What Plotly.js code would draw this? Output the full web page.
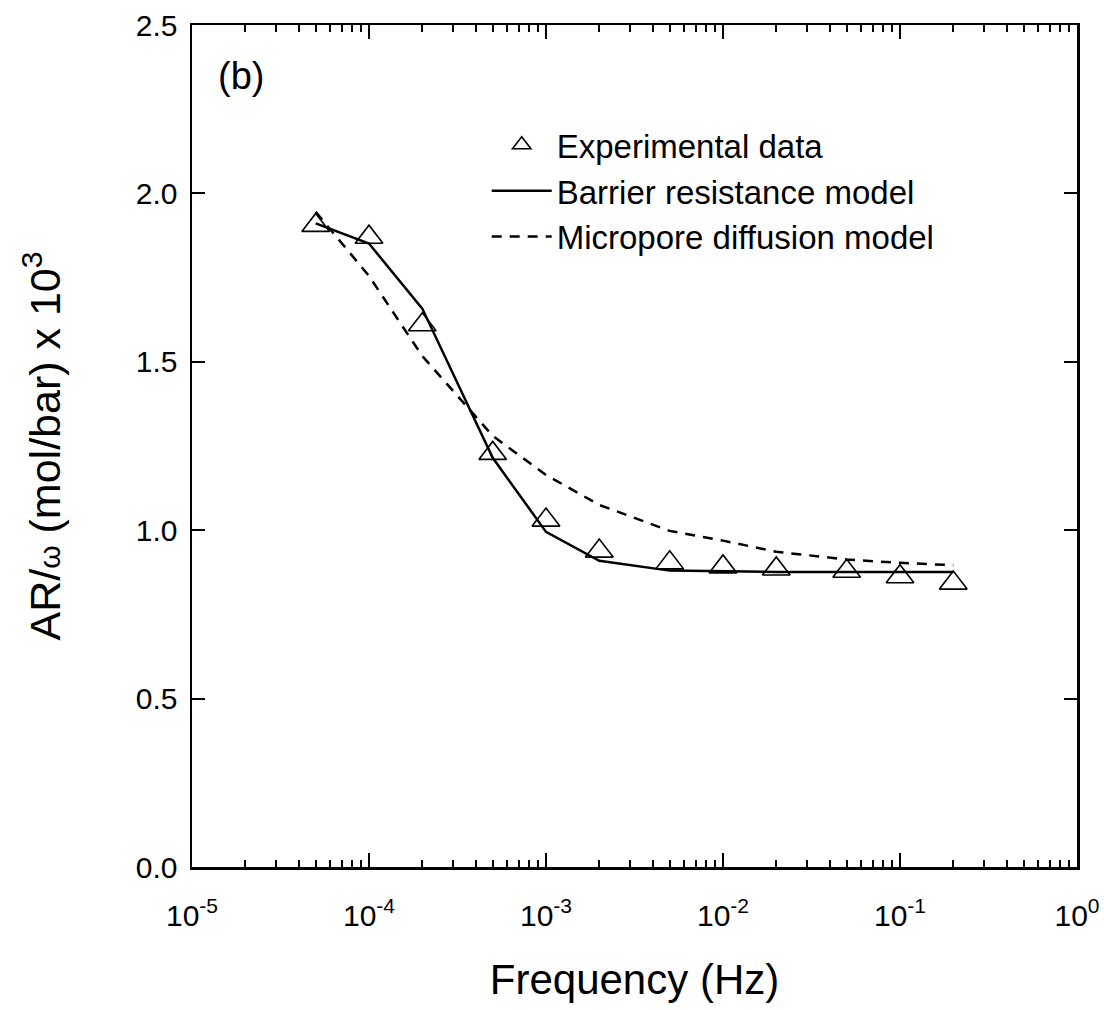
<!DOCTYPE html>
<html>
<head>
<meta charset="utf-8">
<script src="https://cdn.plot.ly/plotly-3.0.1.min.js"></script>
<style>
  html, body { margin: 0; padding: 0; background: #fff; }
  #chart { width: 1104px; height: 1010px; }
</style>
</head>
<body>
<div id="chart"></div>
<script>
// Frequency (Hz)
var freq = [5e-5, 1e-4, 2e-4, 5e-4, 1e-3, 2e-3, 5e-3, 1e-2, 2e-2, 5e-2, 1e-1, 2e-1];
// AR/omega (mol/bar) x 10^3
var experimentalData = [1.905, 1.870, 1.610, 1.228, 1.030, 0.938, 0.903, 0.891, 0.885, 0.878, 0.862, 0.843];
var barrierResistance = [1.911, 1.851, 1.658, 1.215, 0.995, 0.909, 0.880, 0.877, 0.876, 0.876, 0.876, 0.876];
var microporeDiffusion = [1.945, 1.755, 1.517, 1.280, 1.164, 1.075, 0.998, 0.969, 0.936, 0.913, 0.903, 0.896];

var seriesNames = ["Experimental data", "Barrier resistance model", "Micropore diffusion model"];

var xTickVals = [1e-5, 1e-4, 1e-3, 1e-2, 1e-1, 1];
var xTickText = ["10<sup>-5</sup>", "10<sup>-4</sup>", "10<sup>-3</sup>", "10<sup>-2</sup>", "10<sup>-1</sup>", "10<sup>0</sup>"];
var xMinorVals = [];
[1e-5, 1e-4, 1e-3, 1e-2, 1e-1].forEach(function (d) {
  for (var k = 2; k <= 9; k++) xMinorVals.push(d * k);
});
var yTickVals = [0, 0.5, 1.0, 1.5, 2.0, 2.5];
var yTickText = ["0.0", "0.5", "1.0", "1.5", "2.0", "2.5"];

var FONT = "Liberation Sans, Arial, Helvetica, sans-serif";

var traces = [
  {
    x: freq, y: experimentalData, name: seriesNames[0],
    type: "scatter", mode: "markers",
    marker: { symbol: "triangle-up-open", size: 24, color: "#000", line: { width: 1.6, color: "#000" } }
  },
  {
    x: freq, y: barrierResistance, name: seriesNames[1],
    type: "scatter", mode: "lines",
    line: { color: "#000", width: 2.5 }
  },
  {
    x: freq, y: microporeDiffusion, name: seriesNames[2],
    type: "scatter", mode: "lines",
    line: { color: "#000", width: 2.5, dash: "10px,8px" }
  }
];

var layout = {
  width: 1104, height: 1010,
  margin: { l: 192, r: 27, t: 25, b: 143 },
  paper_bgcolor: "#fff", plot_bgcolor: "#fff",
  font: { family: FONT, color: "#000", size: 30 },
  showlegend: true,
  legend: {
    x: 0.333, y: 0.891, xanchor: "left", yanchor: "top",
    bgcolor: "rgba(0,0,0,0)", borderwidth: 0,
    font: { family: FONT, size: 33, color: "#000" },
    itemwidth: 60, tracegroupgap: 0
  },
  xaxis: {
    type: "log", range: [-5, 0],
    showgrid: false, zeroline: false,
    showline: true, linecolor: "#000", linewidth: 2.5, mirror: "allticks",
    ticks: "inside", ticklen: 14, tickwidth: 2, tickcolor: "#000",
    tickmode: "array", tickvals: xTickVals, ticktext: xTickText,
    tickfont: { family: FONT, size: 30, color: "#000" },
    ticklabelstandoff: 20,
    minor: { tickmode: "array", tickvals: xMinorVals, ticks: "inside", ticklen: 7, tickwidth: 2, tickcolor: "#000", showgrid: false },
    title: { text: "Frequency (Hz)", font: { family: FONT, size: 42, color: "#000" }, standoff: 34 }
  },
  yaxis: {
    range: [0, 2.5],
    showgrid: false, zeroline: false,
    showline: true, linecolor: "#000", linewidth: 2.5, mirror: "allticks",
    ticks: "inside", ticklen: 13, tickwidth: 2, tickcolor: "#000",
    tickmode: "array", tickvals: yTickVals, ticktext: yTickText,
    tickfont: { family: FONT, size: 30, color: "#000" },
    ticklabelstandoff: 6,
    title: { text: "AR/<span style=\"font-size:30px\">ω</span> (mol/bar) x 10<sup>3</sup>", font: { family: FONT, size: 43, color: "#000" }, standoff: 62 }
  },
  annotations: [
    { xref: "paper", yref: "paper", x: 0.027, y: 0.939, xanchor: "left", yanchor: "middle",
      text: "(b)", showarrow: false, font: { family: FONT, size: 38, color: "#000" } }
  ]
};

Plotly.newPlot("chart", traces, layout, { displayModeBar: false, staticPlot: true });
</script>
</body>
</html>
